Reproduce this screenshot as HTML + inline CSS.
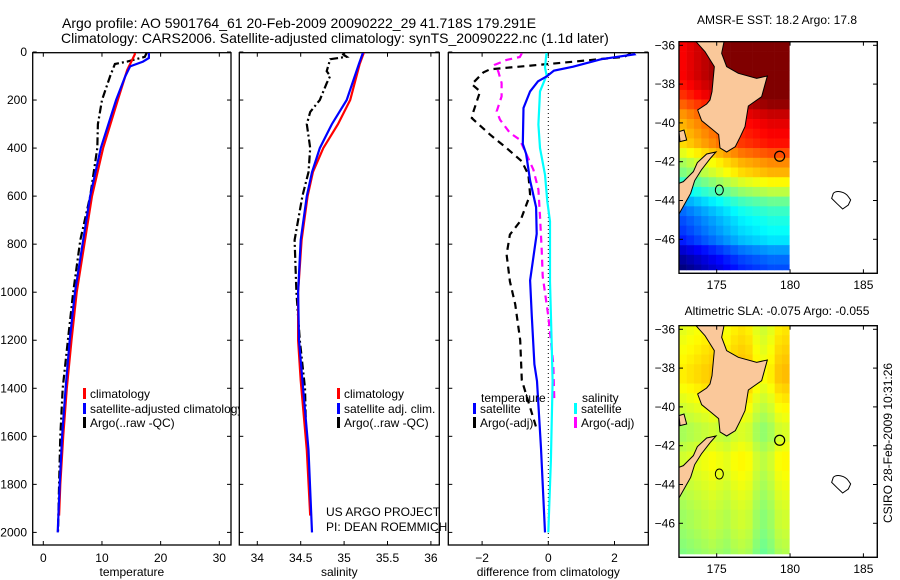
<!DOCTYPE html>
<html><head><meta charset="utf-8"><style>
html,body{margin:0;padding:0;background:#fff;}
svg{display:block;font-family:"Liberation Sans",Arial,sans-serif;}
</style></head><body>
<svg id="fig" width="900" height="580" viewBox="0 0 900 580" xmlns="http://www.w3.org/2000/svg">
<rect x="0" y="0" width="900" height="580" fill="#fff"/>
<text x="62" y="28" font-size="14">Argo profile: AO 5901764_61 20-Feb-2009 20090222_29 41.718S 179.291E</text>
<text x="61" y="43" font-size="14">Climatology: CARS2006. Satellite-adjusted climatology: synTS_20090222.nc (1.1d later)</text>
<defs>
<clipPath id="c1"><rect x="33" y="53" width="198" height="492"/></clipPath>
<clipPath id="c2"><rect x="239" y="53" width="200" height="492"/></clipPath>
<clipPath id="c3"><rect x="448" y="53" width="200" height="492"/></clipPath>
</defs>
<g id="panels"></g>
<g id="maps"></g>
<text transform="translate(892,443) rotate(-90)" text-anchor="middle" font-size="12">CSIRO 28-Feb-2009 10:31:26</text>
</svg>
<script>
// ---------- data ----------
const depthTicks=[0,200,400,600,800,1000,1200,1400,1600,1800,2000];
const tempTicks=[0,10,20,30];
const salTicks=[34,34.5,35,35.5,36];
const diffTicks=[-2,0,2];

const climTDepth=[0,10,30,75,200,400,600,783,1000,1200,1400,1600,1800,1930];
const climT=[15.6,15.6,15.2,14.3,12.7,10.2,8.3,7.1,5.7,4.8,4.0,3.4,2.9,2.7];
const satTDepth=[0,25,40,60,100,200,400,600,783,1000,1200,1400,1600,1800,2000];
const satT=[18.0,18.0,17.0,14.8,14.0,12.4,9.8,8.0,6.8,5.4,4.5,3.8,3.2,2.8,2.45];
const argoTDepth=[0,20,40,50,100,200,300,400,600,783,1000,1200,1400,1600,1800,2000];
const argoT=[17.7,17.3,14.3,12.2,11.4,10.0,9.3,9.2,8.0,6.3,5.1,4.2,3.3,2.9,2.7,2.5];

const climSDepth=[0,50,200,300,400,500,600,783,1000,1200,1367,1657,1930];
const climS=[35.23,35.18,35.07,34.93,34.76,34.64,34.58,34.51,34.47,34.47,34.50,34.57,34.61];
const satSDepth=[0,50,200,300,400,500,600,783,1000,1200,1367,1657,2000];
const satS=[35.22,35.17,35.03,34.86,34.72,34.63,34.57,34.50,34.47,34.48,34.52,34.59,34.63];
const argoSDepth=[0,10,20,30,80,100,130,200,250,300,400,500,600,783,1000,1200,1400,1550];
const argoS=[35.01,34.99,35.03,34.84,34.80,34.84,34.80,34.72,34.61,34.57,34.61,34.59,34.52,34.43,34.45,34.49,34.55,34.56];

const dSatTDepth=[5,10,30,61,78,102,122,164,233,383,424,535,646,757,854,951,1100,1300,1370,1650,2000];
const dSatT=[2.57,2.6,1.6,0.75,0.17,-0.05,-0.31,-0.55,-0.75,-0.77,-0.67,-0.55,-0.37,-0.35,-0.45,-0.55,-0.5,-0.42,-0.34,-0.22,-0.1];
const dArgoTDepth=[5,20,45,72,85,134,164,247,275,344,400,455,511,594,705,760,843,955,1050,1200,1366,1570];
const dArgoT=[2.5,2.3,0.4,-1.76,-1.96,-2.31,-2.06,-2.26,-2.31,-1.76,-1.26,-0.8,-0.6,-0.55,-0.85,-1.16,-1.26,-1.16,-1.0,-0.85,-0.8,-0.35];
const dSatSDepth=[0,65,97,164,302,400,511,622,705,955,1200,1370,1700,2000];
const dSatS=[-0.05,-0.1,-0.05,-0.25,-0.3,-0.25,-0.1,-0.03,0.05,0.05,0.1,0.13,0.08,0.0];
const dArgoSDepth=[6,21,33,53,81,129,185,247,282,337,365,490,573,684,823,934,1100,1300,1450];
const dArgoS=[-0.8,-0.86,-1.26,-1.61,-1.51,-1.41,-1.41,-1.56,-1.46,-1.16,-0.86,-0.45,-0.3,-0.25,-0.2,-0.17,0.0,0.15,0.18];

// map data: jet colour index per 0.5-deg latitude row (top->bottom) and per longitude column offset
const sstRows=[1.0,1.0,1.0,1.0,0.98,0.95,0.9,0.85,0.82,0.8,0.78,0.72,0.66,0.62,0.55,0.48,0.4,0.35,0.32,0.3,0.27,0.2,0.15,0.12];
const sstCols=[-0.12,-0.1,-0.08,-0.06,-0.04,-0.02,0,0.02,0.04,0.05,0.06,0.07,0.08,0.08,0.08];
const slaRows=[0.62,0.63,0.64,0.65,0.66,0.66,0.64,0.62,0.6,0.58,0.56,0.56,0.58,0.6,0.6,0.59,0.58,0.57,0.56,0.55,0.55,0.54,0.53,0.52];
const slaCols=[-0.02,-0.01,0,0.01,0.02,0.01,0,0.02,0.03,0.02,-0.02,-0.04,-0.02,0.02,0.03];
const argoPos=[179.291,-41.718];
// ---------- helpers ----------
const NS="http://www.w3.org/2000/svg";
function mk(tag,attrs,parent){const e=document.createElementNS(NS,tag);for(const k in attrs)e.setAttribute(k,attrs[k]);parent.appendChild(e);return e;}
const depthY=d=>52+d*0.2402;
const tX=t=>43.3+t*5.867;
const sX=s=>257.3+(s-34)*86.8;
const dX=v=>548.3+v*33.1;
const panels=document.getElementById('panels');
function pathFrom(xs,ds,fx){return xs.map((v,i)=>(i?'L':'M')+fx(v).toFixed(1)+','+depthY(ds[i]).toFixed(1)).join(' ');}

function panel(name,x0,x1,ticks,fx,fmt,label,clip){
  const g=mk('g',{},panels);
  
  
  const r=mk('rect',{x:x0,y:52.7,width:x1-x0,height:492.3,fill:'#fff',stroke:'#000','stroke-width':1.3},g);
  
  
  ticks.forEach(t=>{const x=fx(t);
    mk('line',{x1:x,x2:x,y1:545,y2:541,stroke:'#000'},g);
    mk('line',{x1:x,x2:x,y1:52.7,y2:56.7,stroke:'#000'},g);
    const tx=mk('text',{x:x,y:562,'font-size':12,'text-anchor':'middle'},g);tx.textContent=fmt(t);
    
    
  });
  depthTicks.forEach(d=>{const y=depthY(d);
    mk('line',{x1:x0,x2:x0+4,y1:y,y2:y,stroke:'#000'},g);
    mk('line',{x1:x1,x2:x1-4,y1:y,y2:y,stroke:'#000'},g);
  });
  const lb=mk('text',{x:(x0+x1)/2,y:576,'font-size':12,'text-anchor':'middle'},g);lb.textContent=label;
  
  
  const lg=mk('g',{'clip-path':'url(#'+clip+')'},g);
  return lg;
}
function line(g,xs,ds,fx,col,dash,name){
  const p=mk('path',{d:pathFrom(xs,ds,fx),fill:'none',stroke:col,'stroke-width':2.2},g);
  if(dash)p.setAttribute('stroke-dasharray',dash);
  
  
}
function legendItem(g,x,y,col,txt,name){
  mk('rect',{x:x,y:y-9,width:3,height:11,fill:col},g);
  const t=mk('text',{x:x+7,y:y+1,'font-size':12},g);t.textContent=txt;
  
  
}
depthTicks.forEach(d=>{const t=mk('text',{x:27,y:depthY(d)+4,'font-size':12,'text-anchor':'end'},panels);t.textContent=d;
  
  });

let g=panel('temperature-panel',32.7,231,tempTicks,tX,v=>v,'temperature','c1');
line(g,argoT,argoTDepth,tX,'#000','8,3,2,3','argo-temperature-line');
line(g,climT,climTDepth,tX,'#f00',null,'climatology-temperature-line');
line(g,satT,satTDepth,tX,'#00f',null,'satellite-temperature-line');
legendItem(panels,83,397,'#f00','climatology','legend-climatology');
legendItem(panels,83,412,'#00f','satellite-adjusted climatology','legend-satellite');
legendItem(panels,83,426,'#000','Argo(..raw -QC)','legend-argo');
g=panel('salinity-panel',239.3,439.3,salTicks,sX,v=>v,'salinity','c2');
line(g,argoS,argoSDepth,sX,'#000','8,3,2,3','argo-salinity-line');
line(g,climS,climSDepth,sX,'#f00',null,'climatology-salinity-line');
line(g,satS,satSDepth,sX,'#00f',null,'satellite-salinity-line');
legendItem(panels,337,397,'#f00','climatology','legend2-climatology');
legendItem(panels,337,412,'#00f','satellite adj. clim.','legend2-satellite');
legendItem(panels,337,426,'#000','Argo(..raw -QC)','legend2-argo');
let t=mk('text',{x:326,y:516,'font-size':12},panels);t.textContent='US ARGO PROJECT';


t=mk('text',{x:326,y:531,'font-size':12},panels);t.textContent='PI: DEAN ROEMMICH';


g=panel('difference-panel',448.3,648.3,diffTicks,dX,v=>v<0?'\u2212'+(-v):v,'difference from climatology','c3');
mk('line',{x1:dX(0),x2:dX(0),y1:53,y2:545,stroke:'#000','stroke-dasharray':'1,3'},g);
line(g,dArgoT,dArgoTDepth,dX,'#000','7,5','argo-temperature-difference');
line(g,dArgoS,dArgoSDepth,dX,'#f0f','7,5','argo-salinity-difference');
line(g,dSatS,dSatSDepth,dX,'#0ff',null,'satellite-salinity-difference');
line(g,dSatT,dSatTDepth,dX,'#00f',null,'satellite-temperature-difference');
t=mk('text',{x:481,y:402,'font-size':12},panels);t.textContent='temperature';


t=mk('text',{x:582,y:402,'font-size':12},panels);t.textContent='salinity';


legendItem(panels,473,412,'#00f','satellite','legend3-temp-satellite');
legendItem(panels,473,426,'#000','Argo(-adj)','legend3-temp-argo');
legendItem(panels,574,412,'#0ff','satellite','legend3-sal-satellite');
legendItem(panels,574,426,'#f0f','Argo(-adj)','legend3-sal-argo');

// ---------- maps ----------
function jet(x){x=Math.max(0,Math.min(1,x));const c=v=>Math.round(255*Math.max(0,Math.min(1,v)));
  return 'rgb('+c(1.5-Math.abs(4*x-3))+','+c(1.5-Math.abs(4*x-2))+','+c(1.5-Math.abs(4*x-1))+')';}
const maps=document.getElementById('maps');
const lonX=l=>716.7+(l-175)*14.67;
const latY=(la,off)=>45.3+off+(-36-la)*19.4;
const landN="108,35 192,35 185,70 200,110 235,130 290,145 322,138 305,200 265,228 255,290 240,322 226,350 200,366 180,354 176,314 152,294 125,272 113,240 140,222 150,210 156,185 163,110 135,65";
const landS="57,460 70,455 85,440 100,425 112,398 140,372 168,366 152,384 124,420 104,452 92,490 57,552";
const landW="57,305 72,300 80,330 60,335";
function drawMap(name,off,rows,cols,title){
  const mg=mk('g',{},maps);
  
  
  mk('rect',{x:679,y:41.7+off,width:198.3,height:231.6,fill:'#fff',stroke:'#000','stroke-width':1.2},mg);
  rows.forEach((rv,i)=>{cols.forEach((cv,j)=>{
    const la0=-35.8-i*0.5, lo0=172.45+j*0.5;
    const x=lonX(lo0), y=latY(la0,off);
    const w=Math.min(lonX(lo0+0.5),790.7)-x, h=Math.min(latY(la0-0.5,off),270+off)-y;
    const c=mk('rect',{x:x.toFixed(2),y:y.toFixed(2),width:(w+0.3).toFixed(2),height:(h+0.3).toFixed(2),fill:jet(rv+cv)},mg);
    
    
  });});
  const lg=mk('g',{transform:'translate(660,'+(30+off)+') scale(0.3333)'},mg);
  const p1=mk('polygon',{points:landN,fill:'#fac89a',stroke:'#000','stroke-width':3},lg);
  
  
  const p2=mk('polygon',{points:landS,fill:'#fac89a',stroke:'#000','stroke-width':3},lg);
  
  
  mk('polygon',{points:landW,fill:'#fac89a',stroke:'#000','stroke-width':3},lg);
  mk('path',{d:'M520,490 C530,480 555,485 565,500 L572,510 565,525 548,537 530,520 515,505 Z',fill:'none',stroke:'#000','stroke-width':3},lg);
  mk('ellipse',{cx:178,cy:480,rx:12,ry:15,fill:'none',stroke:'#000','stroke-width':3},lg);
  mk('rect',{x:679,y:41.7+off,width:198.3,height:231.6,fill:'none',stroke:'#000','stroke-width':1.2},mg);
  const circ=mk('circle',{cx:lonX(argoPos[0]),cy:latY(argoPos[1],off),r:5,fill:'none',stroke:'#000','stroke-width':1.2},mg);
  
  
  [-36,-38,-40,-42,-44,-46].forEach(la=>{const y=latY(la,off);
    mk('line',{x1:679,x2:683,y1:y,y2:y,stroke:'#000'},mg);mk('line',{x1:877,x2:873,y1:y,y2:y,stroke:'#000'},mg);
    const tt=mk('text',{x:675,y:y+4,'font-size':12,'text-anchor':'end'},mg);tt.textContent='\u2212'+(-la);
    
    });
  [175,180,185].forEach(lo=>{const x=lonX(lo);
    mk('line',{x1:x,x2:x,y1:273.3+off,y2:269.3+off,stroke:'#000'},mg);mk('line',{x1:x,x2:x,y1:41.7+off,y2:45.7+off,stroke:'#000'},mg);
    const tt=mk('text',{x:x,y:289+off,'font-size':12,'text-anchor':'middle'},mg);tt.textContent=lo;
    
    });
  const ti=mk('text',{x:777,y:(off?31:24)+off,'font-size':12,'text-anchor':'middle'},mg);ti.textContent=title;
  
  
}
drawMap('sst-map',0,sstRows,sstCols,'AMSR-E SST: 18.2 Argo: 17.8');
drawMap('sla-map',284,slaRows,slaCols,'Altimetric SLA: -0.075 Argo: -0.055');
</script>
</body></html>
